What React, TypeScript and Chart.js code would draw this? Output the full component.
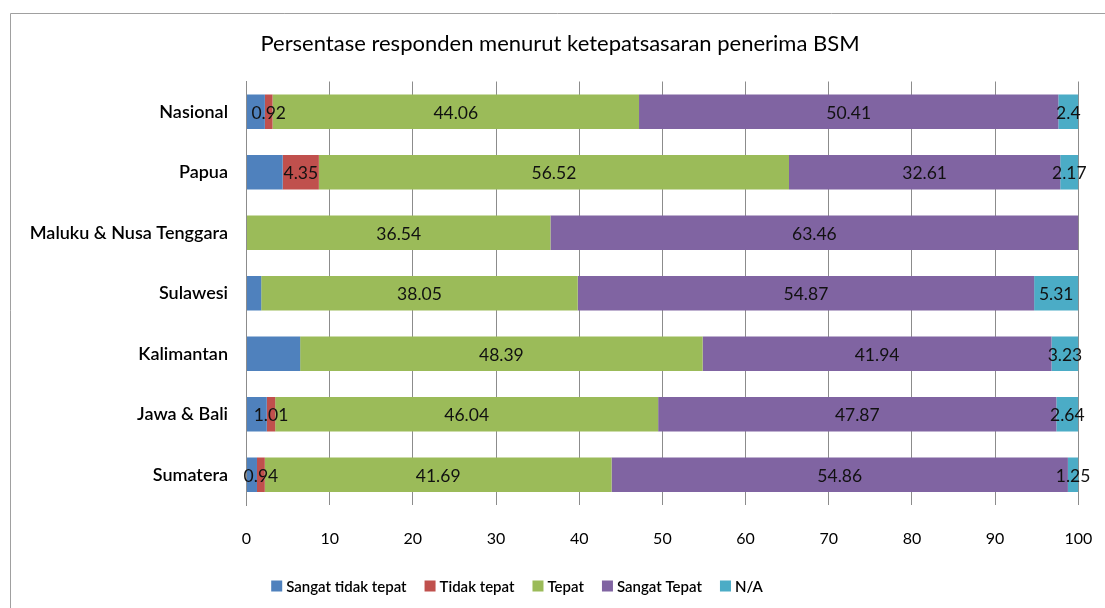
import React, { useEffect, useRef } from "react";
import { Chart, registerables } from "chart.js";

Chart.register(...registerables);

const titleText = "Persentase responden menurut ketepatsasaran penerima BSM";
const categories = [
  "Nasional",
  "Papua",
  "Maluku & Nusa Tenggara",
  "Sulawesi",
  "Kalimantan",
  "Jawa & Bali",
  "Sumatera",
];
const seriesNames = ["Sangat tidak tepat", "Tidak tepat", "Tepat", "Sangat Tepat", "N/A"];
const sangatTidakTepat = [2.21, 4.35, 0, 1.77, 6.45, 2.44, 1.26];
const tidakTepat = [0.92, 4.35, 0, 0, 0, 1.01, 0.94];
const tepat = [44.06, 56.52, 36.54, 38.05, 48.39, 46.04, 41.69];
const sangatTepat = [50.41, 32.61, 63.46, 54.87, 41.94, 47.87, 54.86];
const nA = [2.4, 2.17, 0, 5.31, 3.23, 2.64, 1.25];
const xTickValues = [0, 10, 20, 30, 40, 50, 60, 70, 80, 90, 100];
const showLabels = [false, true, true, true, true];

const seriesValues = [sangatTidakTepat, tidakTepat, tepat, sangatTepat, nA];
const seriesColors = ["#4F81BD", "#C0504D", "#9BBB59", "#8064A2", "#4BACC6"];

const FONT = "Lato, 'Noto Sans', 'DejaVu Sans', sans-serif";

const decorPlugin = {
  id: "decor",
  beforeDraw(chart: any) {
    const ctx = chart.ctx;
    ctx.save();
    ctx.fillStyle = "#ffffff";
    ctx.fillRect(0, 0, chart.width, chart.height);
    ctx.strokeStyle = "#a0a0a0";
    ctx.lineWidth = 1;
    ctx.beginPath();
    ctx.moveTo(10.5, chart.height);
    ctx.lineTo(10.5, 13.5);
    ctx.lineTo(chart.width, 13.5);
    ctx.stroke();
    ctx.restore();
  },
  afterDatasetsDraw(chart: any) {
    const ctx = chart.ctx;
    ctx.save();
    ctx.font = `17.5px ${FONT}`;
    ctx.fillStyle = "#111111";
    ctx.textAlign = "center";
    ctx.textBaseline = "middle";
    chart.data.datasets.forEach((ds: any, di: number) => {
      if (!showLabels[di]) return;
      const meta = chart.getDatasetMeta(di);
      meta.data.forEach((el: any, i: number) => {
        const v = ds.data[i];
        if (!v) return;
        const p = el.getCenterPoint();
        ctx.fillText(String(v), p.x, p.y + 1.5);
      });
    });
    ctx.restore();
  },
  afterDraw(chart: any) {
    const ctx = chart.ctx;
    ctx.save();
    // title
    ctx.font = `22px ${FONT}`;
    ctx.fillStyle = "#000000";
    ctx.textAlign = "center";
    ctx.textBaseline = "middle";
    ctx.fillText(titleText, 560, 44);
    // legend
    ctx.font = `600 15px ${FONT}`;
    const box = 11;
    const gapText = 4;
    const gapItem = 18;
    const widths = seriesNames.map((n) => ctx.measureText(n).width);
    const total =
      widths.reduce((a, w) => a + box + gapText + w, 0) + gapItem * (seriesNames.length - 1);
    let x = 517 - total / 2;
    const y = 586;
    ctx.textAlign = "left";
    seriesNames.forEach((n, i) => {
      ctx.fillStyle = seriesColors[i];
      ctx.fillRect(x, y - box / 2, box, box);
      ctx.fillStyle = "#000000";
      ctx.fillText(n, x + box + gapText, y + 1);
      x += box + gapText + widths[i] + gapItem;
    });
    ctx.restore();
  },
};

export default function App() {
  const ref = useRef<HTMLCanvasElement | null>(null);
  useEffect(() => {
    if (!ref.current) return;
    Chart.defaults.font.family = FONT;
    const chart = new Chart(ref.current, {
      type: "bar",
      data: {
        labels: categories,
        datasets: seriesNames.map((name, i) => ({
          label: name,
          data: seriesValues[i],
          backgroundColor: seriesColors[i],
          borderWidth: 0,
          barPercentage: 0.57,
          categoryPercentage: 1,
        })),
      },
      options: {
        indexAxis: "y",
        animation: false,
        responsive: false,
        maintainAspectRatio: false,
        layout: { padding: { top: 81.5, left: 10, right: 26.7, bottom: 43 } },
        plugins: {
          legend: { display: false },
          title: { display: false },
          tooltip: { enabled: false },
        },
        scales: {
          x: {
            stacked: true,
            min: 0,
            max: 100,
            afterBuildTicks: (scale: any) => {
              scale.ticks = xTickValues.map((v) => ({ value: v }));
            },
            afterFit: (scale: any) => {
              scale.height = 60;
            },
            ticks: {
              font: { size: 16, family: FONT },
              color: "#000000",
              padding: 3,
              maxRotation: 0,
            },
            grid: {
              color: "#8c8c8c",
              lineWidth: 1,
              drawTicks: true,
              tickLength: 21,
              tickColor: "rgba(0,0,0,0)",
            },
            border: { display: false },
          },
          y: {
            stacked: true,
            afterFit: (scale: any) => {
              scale.width = 236.5;
            },
            ticks: {
              font: { size: 18, family: FONT, weight: "600" },
              color: "#000000",
              padding: 18.5,
            },
            grid: { display: false, drawTicks: false },
            border: { display: true, color: "#8c8c8c", width: 1 },
          },
        },
      },
      plugins: [decorPlugin],
    } as any);
    return () => chart.destroy();
  }, []);
  return (
    <div style={{ position: "absolute", left: 0, top: 0, width: 1105, height: 608, background: "#fff" }}>
      <canvas ref={ref} width={1105} height={608} style={{ display: "block" }} />
    </div>
  );
}
